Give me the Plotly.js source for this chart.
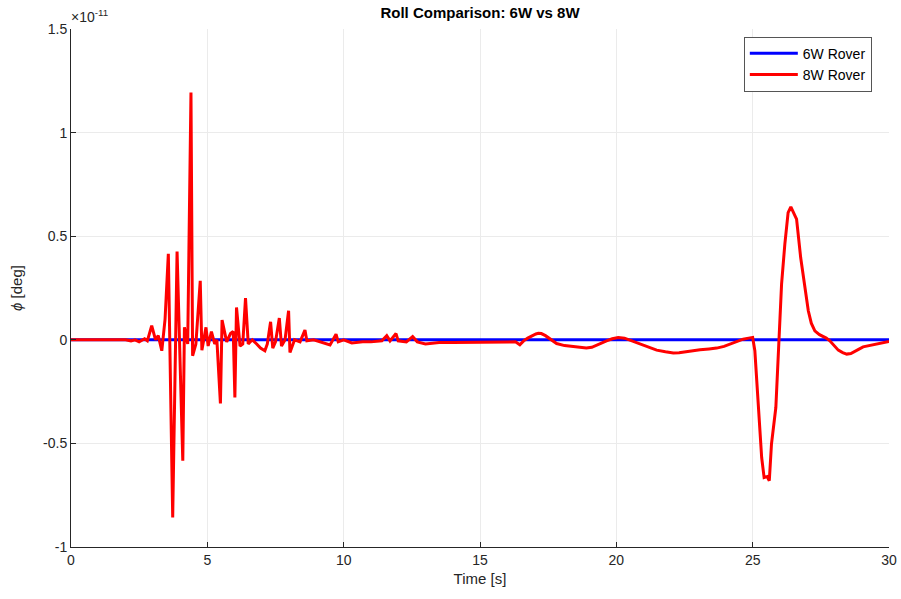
<!DOCTYPE html>
<html>
<head>
<meta charset="utf-8">
<script src="https://cdn.plot.ly/plotly-3.0.1.min.js"></script>
<style>html,body{margin:0;padding:0;background:#fff;}#chart{width:901px;height:599px;}</style>
</head>
<body>
<div id="chart"></div>
<script>
// Values in units of 1e-11 deg
const time6W = [0, 10, 20, 30];
const roll6W = [0, 0, 0, 0];

const time8W = [0, 2.0, 2.2, 2.35, 2.5, 2.7, 2.8, 2.96, 3.1, 3.2, 3.33, 3.45, 3.57, 3.73, 3.89, 4.10, 4.16, 4.22, 4.28, 4.40, 4.46, 4.58, 4.74, 4.80, 4.95, 5.03, 5.15, 5.27, 5.35, 5.48, 5.54, 5.71, 5.85, 5.95, 6.01, 6.07, 6.2, 6.3, 6.40, 6.5, 6.65, 6.81, 6.95, 7.11, 7.2, 7.32, 7.4, 7.5, 7.64, 7.72, 7.85, 7.98, 8.03, 8.2, 8.4, 8.58, 8.65, 8.9, 9.15, 9.5, 9.72, 9.8, 10.0, 10.3, 10.7, 11.0, 11.4, 11.58, 11.7, 11.92, 12.0, 12.3, 12.53, 12.7, 13.0, 13.5, 14, 15, 16, 16.3, 16.46, 16.6, 16.75, 16.9, 17.05, 17.14, 17.25, 17.4, 17.6, 17.81, 18.1, 18.42, 18.7, 18.9, 19.1, 19.21, 19.4, 19.64, 19.85, 20.07, 20.3, 20.55, 20.86, 21.15, 21.48, 21.8, 22.09, 22.3, 22.57, 22.8, 23.07, 23.4, 23.68, 23.95, 24.17, 24.4, 24.65, 24.85, 25.0, 25.08, 25.20, 25.33, 25.42, 25.53, 25.61, 25.69, 25.85, 25.97, 26.06, 26.18, 26.30, 26.40, 26.48, 26.61, 26.76, 26.92, 27.04, 27.15, 27.28, 27.45, 27.59, 27.7, 27.83, 28.0, 28.14, 28.3, 28.45, 28.6, 28.7, 28.9, 29.05, 29.25, 29.42, 29.7, 30];
const roll8W = [0, 0, -0.005, 0.0, -0.01, 0.005, -0.005, 0.068, 0.0, 0.02, -0.053, 0.1, 0.415, -0.857, 0.426, -0.584, 0.06, 0.02, -0.02, 1.194, -0.077, -0.02, 0.285, -0.05, 0.06, -0.03, 0.04, -0.02, 0.0, -0.307, 0.095, -0.01, 0.03, 0.04, -0.278, 0.156, -0.03, -0.02, 0.201, -0.02, 0.0, -0.02, -0.04, -0.053, -0.02, 0.087, -0.04, -0.01, 0.105, -0.03, 0.0, 0.14, -0.061, 0.0, -0.01, 0.047, -0.005, 0.0, -0.01, -0.025, 0.027, -0.01, 0.0, -0.015, -0.01, -0.01, -0.005, 0.02, -0.005, 0.03, -0.005, -0.01, 0.015, -0.01, -0.02, -0.013, -0.013, -0.013, -0.012, -0.01, -0.024, -0.005, 0.008, 0.02, 0.028, 0.031, 0.03, 0.02, 0.0, -0.018, -0.028, -0.034, -0.038, -0.04, -0.036, -0.029, -0.018, -0.005, 0.005, 0.011, 0.008, -0.005, -0.021, -0.036, -0.05, -0.058, -0.064, -0.062, -0.056, -0.052, -0.048, -0.044, -0.04, -0.032, -0.021, -0.01, 0.003, 0.008, 0.011, -0.053, -0.327, -0.568, -0.665, -0.66, -0.68, -0.503, -0.327, 0, 0.269, 0.462, 0.614, 0.642, 0.62, 0.582, 0.397, 0.252, 0.14, 0.08, 0.043, 0.025, 0.016, 0.008, -0.005, -0.03, -0.05, -0.062, -0.069, -0.066, -0.06, -0.045, -0.034, -0.028, -0.024, -0.016, -0.008];

const xTicks = [0, 5, 10, 15, 20, 25, 30];
const yTicks = [-1, -0.5, 0, 0.5, 1, 1.5];
const yTickLabels = ['-1', '-0.5', '0', '0.5', '1', '1.5'];

const axColor = '#262626';
const gridColor = '#ebebeb';
const fontFam = 'Liberation Sans, Arial, sans-serif';

const traces = [
  {x: time6W, y: roll6W, type: 'scatter', mode: 'lines', name: '6W Rover', line: {color: '#0000ff', width: 3}},
  {x: time8W, y: roll8W, type: 'scatter', mode: 'lines', name: '8W Rover', line: {color: '#ff0000', width: 3}}
];

const layout = {
  width: 901, height: 599,
  margin: {l: 71, r: 12, t: 29, b: 52},
  paper_bgcolor: '#fff', plot_bgcolor: '#fff',
  font: {family: fontFam, size: 14, color: axColor},
  title: {text: '<b>Roll Comparison: 6W vs 8W</b>', x: 0.5, xref: 'paper', y: 0.978, yanchor: 'middle', font: {family: fontFam, size: 15, color: '#000'}},
  xaxis: {
    range: [0, 30], tickvals: xTicks, ticks: 'inside', ticklen: 5, tickcolor: axColor,
    showgrid: true, gridcolor: gridColor, zeroline: false,
    showline: true, linecolor: axColor, linewidth: 1, mirror: false,
    title: {text: 'Time [s]', standoff: 6, font: {size: 15, color: axColor}},
    tickfont: {size: 14, color: axColor}
  },
  yaxis: {
    range: [-1, 1.5], tickvals: yTicks, ticktext: yTickLabels, ticks: 'inside', ticklen: 5, tickcolor: axColor,
    showgrid: true, gridcolor: gridColor, zeroline: false,
    showline: true, linecolor: axColor, linewidth: 1, mirror: false,
    title: {text: '<i>ϕ</i> [deg]', standoff: 16, font: {size: 15, color: axColor}},
    tickfont: {size: 14, color: axColor}
  },
  legend: {
    x: 0.979, xanchor: 'right', y: 0.985, yanchor: 'top',
    bgcolor: '#fff', bordercolor: '#555', borderwidth: 1,
    font: {size: 14, color: '#000'}, tracegroupgap: 0, itemwidth: 48
  },
  showlegend: true,
  annotations: [{
    text: '×10<sup>-11</sup>', xref: 'paper', yref: 'paper', x: 0, y: 1, xanchor: 'left', yanchor: 'bottom',
    xshift: -2, yshift: 2, showarrow: false, font: {size: 14, color: axColor}
  }]
};

Plotly.newPlot('chart', traces, layout, {displayModeBar: false, staticPlot: true});
</script>
</body>
</html>
